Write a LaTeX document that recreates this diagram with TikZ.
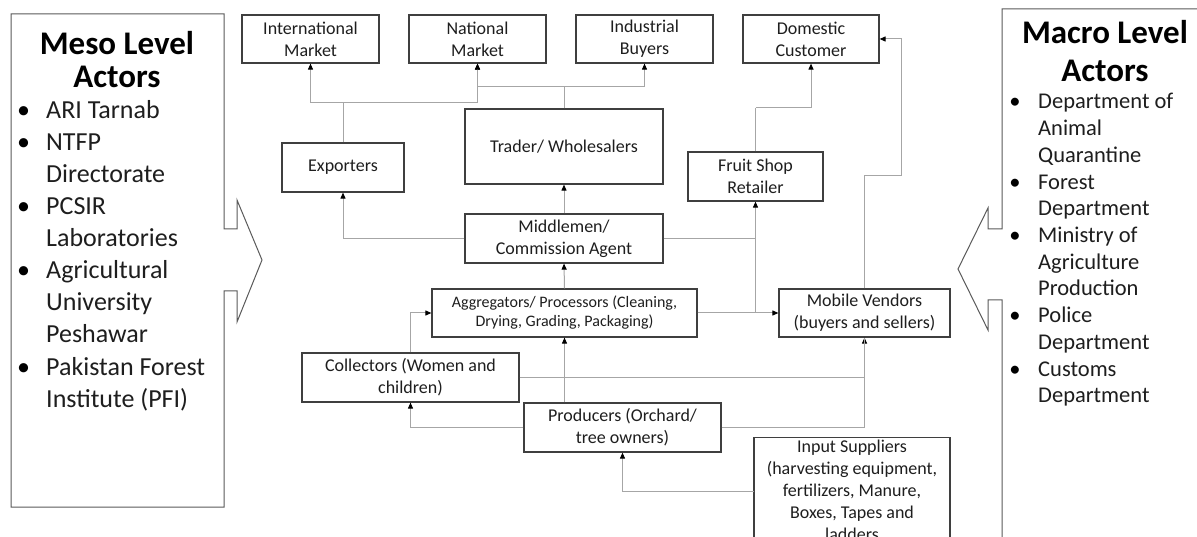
\documentclass[tikz,border=0pt]{standalone}
\usepackage{fontspec}
\setmainfont{Carlito}
\usetikzlibrary{arrows.meta}
\definecolor{boxline}{HTML}{3F3F3F}
\definecolor{connline}{HTML}{A6A6A6}
\definecolor{ink}{HTML}{1E1E1E}
\definecolor{frameline}{HTML}{5A5A5A}
\tikzset{
  box/.style={draw=boxline, line width=1.2pt, align=center, inner sep=0pt,
    text=ink, font=\fontsize{18}{22}\selectfont},
  smallbox/.style={box, font=\fontsize{16}{19}\selectfont},
  conn/.style={draw=connline, line width=1pt},
  tip/.style={conn, -{Triangle[length=6pt,width=5pt,color=black]}},
  frame/.style={draw=frameline, line width=1pt},
  mesotitle/.style={font=\fontsize{33}{33}\bfseries\selectfont, text=black, inner sep=0pt, anchor=base},
  mesotext/.style={font=\fontsize{26}{32}\selectfont, text=ink, inner sep=0pt, anchor=base west},
  macrotext/.style={font=\fontsize{22.5}{27}\selectfont, text=ink, inner sep=0pt, anchor=base west},
  dot/.style={inner sep=0pt, anchor=base, text=black}
}
\begin{document}
\begin{tikzpicture}[x=1pt,y=-1pt]
\useasboundingbox (0,0) rectangle (1197,537);
\fill[white] (0,0) rectangle (1197,537);
\clip (0,0) rectangle (1197,537);

% meso level frame with its arrow
\draw[frame] (11,14) -- (224,14) -- (224,229) -- (237,229) -- (237,200) -- (262,260)
  -- (237,322) -- (237,291) -- (224,291) -- (224,507) -- (11,507) -- cycle;
\node[mesotitle] (mesoA) at (117,55) {Meso Level};
\node[mesotitle] (mesoB) at (117,88) {Actors};
\foreach \t [count=\i] in {ARI Tarnab, NTFP, Directorate, PCSIR, Laboratories,
  Agricultural, University, Peshawar, Pakistan Forest, Institute (PFI)}
  \node[mesotext] (mesoline\i) at (46,87+32*\i) {\t};
\foreach \k in {1,2,4,6,9}
  \node[dot, font=\fontsize{26}{32}\selectfont] (mesodot\k) at (23.5,87+32*\k) {•};

% macro level frame with its arrow
\draw[frame] (1215,9) -- (1002,9) -- (1002,229) -- (988,229) -- (988,208) -- (958,269)
  -- (988,330) -- (988,300) -- (1002,300) -- (1002,560);
\node[mesotitle] (macroA) at (1105,44) {Macro Level};
\node[mesotitle] (macroB) at (1105,82) {Actors};
\foreach \t [count=\i] in {Department of, Animal, Quarantine, Forest, Department,
  Ministry of, Agriculture, Production, Police, Department, Customs, Department}
  \node[macrotext] (macroline\i) at (1038,82.3+26.7*\i) {\t};
\foreach \k in {1,4,6,9,11}
  \node[dot, font=\fontsize{22.5}{27}\selectfont] (macrodot\k) at (1015,82.3+26.7*\k) {•};

% value chain actors
\node[box, minimum width=137, minimum height=48] (intl) at (310.5,39) {International\\Market};
\node[box, minimum width=137, minimum height=48] (natl) at (477.5,39) {National\\Market};
\node[box, minimum width=137, minimum height=48] (indus) at (644.5,39) {Industrial\\Buyers};
\node[box, minimum width=136, minimum height=48] (dom) at (811,39) {Domestic\\Customer};
\node[box, minimum width=122, minimum height=49] (exp) at (343,167.5) {Exporters};
\node[box, minimum width=198, minimum height=75] (trader) at (564,146.5) {Trader/ Wholesalers};
\node[box, minimum width=135, minimum height=49] (fruit) at (755.5,176.5) {Fruit Shop\\Retailer};
\node[box, minimum width=198, minimum height=49] (middle) at (564,238.5) {Middlemen/\\Commission Agent};
\node[smallbox, minimum width=265, minimum height=48] (aggr) at (564.5,313) {Aggregators/ Processors (Cleaning,\\Drying, Grading, Packaging)};
\node[box, minimum width=171, minimum height=48] (mobile) at (864.5,313) {Mobile Vendors\\(buyers and sellers)};
\node[box, minimum width=217, minimum height=49] (coll) at (410.5,377.5) {Collectors (Women and\\children)};
\node[box, minimum width=197, minimum height=49] (prod) at (622.5,427.5) {Producers (Orchard/\\tree owners)};
\node[box, minimum width=196, anchor=north, inner ysep=2.5pt] (input) at (852,437)
  {Input Suppliers\\(harvesting equipment,\\fertilizers, Manure,\\Boxes, Tapes and\\ladders};

% junctions of the flows
\coordinate (expup) at (343,103);
\coordinate (tradeup) at (564,87);
\coordinate (fruitup) at (755.5,108);
\coordinate (mobturn) at (901,176);
\coordinate (inputin) at (754,491);

% flows between actors
\draw[conn] (exp.north) -- (expup);
\draw[tip] (expup) -| (intl.south);
\draw[tip] (expup) -| (natl.south);
\draw[conn] (trader.north) -- (tradeup);
\draw[tip] (tradeup) -| (natl.south);
\draw[tip] (tradeup) -| (indus.south);
\draw[tip] (middle.north) -- (trader.south);
\draw[tip] (middle.west) -| (exp.south);
\draw[conn] (middle.east) -- (middle.east -| fruit.south);
\draw[tip] (aggr.east) -| (fruit.south);
\draw[tip] (aggr.east) -- (mobile.west);
\draw[tip] (aggr.north) -- (middle.south);
\draw[conn] (fruit.north) -- (fruitup);
\draw[tip] (fruitup) -| (dom.south);
\draw[conn] (mobile.north) |- (mobturn);
\draw[tip] (mobturn) |- (dom.east);
\draw[tip] (coll.north) |- (aggr.west);
\draw[tip] (prod.north -| aggr.south) -- (aggr.south);
\draw[tip] (coll.east) -| (mobile.south);
\draw[tip] (prod.west) -| (coll.south);
\draw[conn] (prod.east) -| (mobile.south);
\draw[tip] (inputin) -| (prod.south);
\end{tikzpicture}
\end{document}
